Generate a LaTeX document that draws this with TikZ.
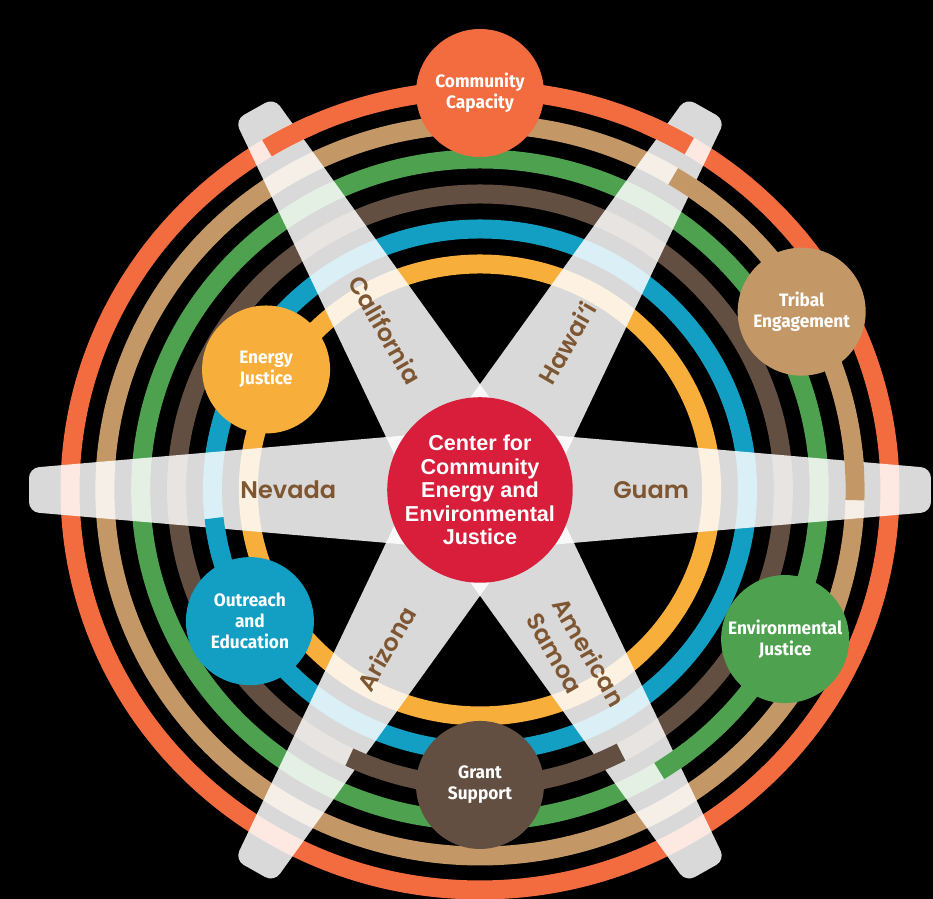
\documentclass[tikz,border=0pt]{standalone}
\usepackage{fontspec}
\newfontfamily\topicfont[FakeStretch=0.96]{Fira Sans}
\newfontfamily\hubfont{Liberation Sans}
\newfontfamily\statefont[BoldFont={* SemiBold}]{Poppins}
\definecolor{ringorange}{HTML}{F26C40}
\definecolor{ringtan}{HTML}{C49766}
\definecolor{ringgreen}{HTML}{4DA14F}
\definecolor{ringbrown}{HTML}{634F41}
\definecolor{ringblue}{HTML}{139FC3}
\definecolor{ringyellow}{HTML}{F7AE3B}
\definecolor{hubred}{HTML}{D81E3B}
\definecolor{statebrown}{HTML}{7E5632}
\begin{document}
\begin{tikzpicture}[x=0.5pt, y=0.5pt, xscale=1.025]
	\tikzstyle{every node}+=[inner sep=0pt]
	\tikzstyle{ring}=[line width=9.5pt]
	\tikzstyle{band}=[fill=white, fill opacity=0.85, rounded corners=5pt]
	\tikzstyle{topic}=[circle, minimum size=64pt, text=white, align=center, font=\topicfont\bfseries\fontsize{9}{10.5}\selectfont]
	\tikzstyle{state}=[text=statebrown, font=\statefont\bfseries\fontsize{12}{15}\selectfont]
	\fill [black] (-468.3,-409) rectangle (442,490);
	\useasboundingbox (-468.3,-409) rectangle (442,490);
	\draw [ring, ringorange] (0,0) circle (400);
	\draw [ring, ringtan] (0,0) circle (366);
	\draw [ring, ringgreen] (0,0) circle (331);
	\draw [ring, ringbrown] (0,0) circle (296);
	\draw [ring, ringblue] (0,0) circle (261);
	\draw [ring, ringyellow] (0,0) circle (226);
	\fill [band, rotate=0] (0,-61) -- (440,-22) -- (440,22) -- (0,61) -- cycle;
	\fill [band, rotate=60] (0,-61) -- (440,-22) -- (440,22) -- (0,61) -- cycle;
	\fill [band, rotate=120] (0,-61) -- (440,-22) -- (440,22) -- (0,61) -- cycle;
	\fill [band, rotate=180] (0,-61) -- (440,-22) -- (440,22) -- (0,61) -- cycle;
	\fill [band, rotate=240] (0,-61) -- (440,-22) -- (440,22) -- (0,61) -- cycle;
	\fill [band, rotate=300] (0,-61) -- (440,-22) -- (440,22) -- (0,61) -- cycle;
	\draw [ring, ringorange] (114:400) arc [start angle=114, end angle=121.3, radius=400];
	\draw [ring, ringorange] (59.3:400) arc [start angle=59.3, end angle=66, radius=400];
	\draw [ring, ringtan] (52:366) arc [start angle=52, end angle=59, radius=366];
	\draw [ring, ringtan] (-1.6:366) arc [start angle=-1.6, end angle=6, radius=366];
	\draw [ring, ringbrown] (288:296) arc [start angle=288, end angle=297.7, radius=296];
	\draw [ring, ringgreen] (301.9:331) arc [start angle=301.9, end angle=308, radius=331];
	\draw [ring, ringbrown] (244.5:296) arc [start angle=244.5, end angle=250, radius=296];
	\draw [ring, ringblue] (186.2:261) arc [start angle=186.2, end angle=195, radius=261];
	\draw (180:187) node [state] (nevada) {Nevada};
	\draw (0:167) node [state] (guam) {Guam};
	\draw (120:185) node [state, rotate=-60] (california) {California};
	\draw (60:170) node [state, rotate=60] (hawaii) {Hawai‘i};
	\draw (240:183) node [state, rotate=60] (arizona) {Arizona};
	\draw (299:194) node [state, rotate=-60, align=left] (samoa) {American\\Samoa};
	\draw (0,0) node [circle, fill=hubred, minimum size=86pt, text=white, align=center, font=\hubfont\bfseries\fontsize{10.8}{11.7}\selectfont] (hub) {Center for\\Community\\Energy and\\Environmental\\Justice};
	\draw (90:397) node [topic, fill=ringorange] (capacity) {Community\\Capacity};
	\draw (29.6:361) node [topic, fill=ringtan] (tribal) {Tribal\\Engagement};
	\draw (150:241) node [topic, fill=ringyellow] (energy) {Energy\\Justice};
	\draw (210.3:260) node [topic, fill=ringblue] (outreach) {Outreach\\and\\Education};
	\draw (270:295) node [topic, fill=ringbrown] (grant) {Grant\\Support};
	\draw (-26.6:333) node [topic, fill=ringgreen] (environmental) {Environmental\\Justice};
\end{tikzpicture}
\end{document}
